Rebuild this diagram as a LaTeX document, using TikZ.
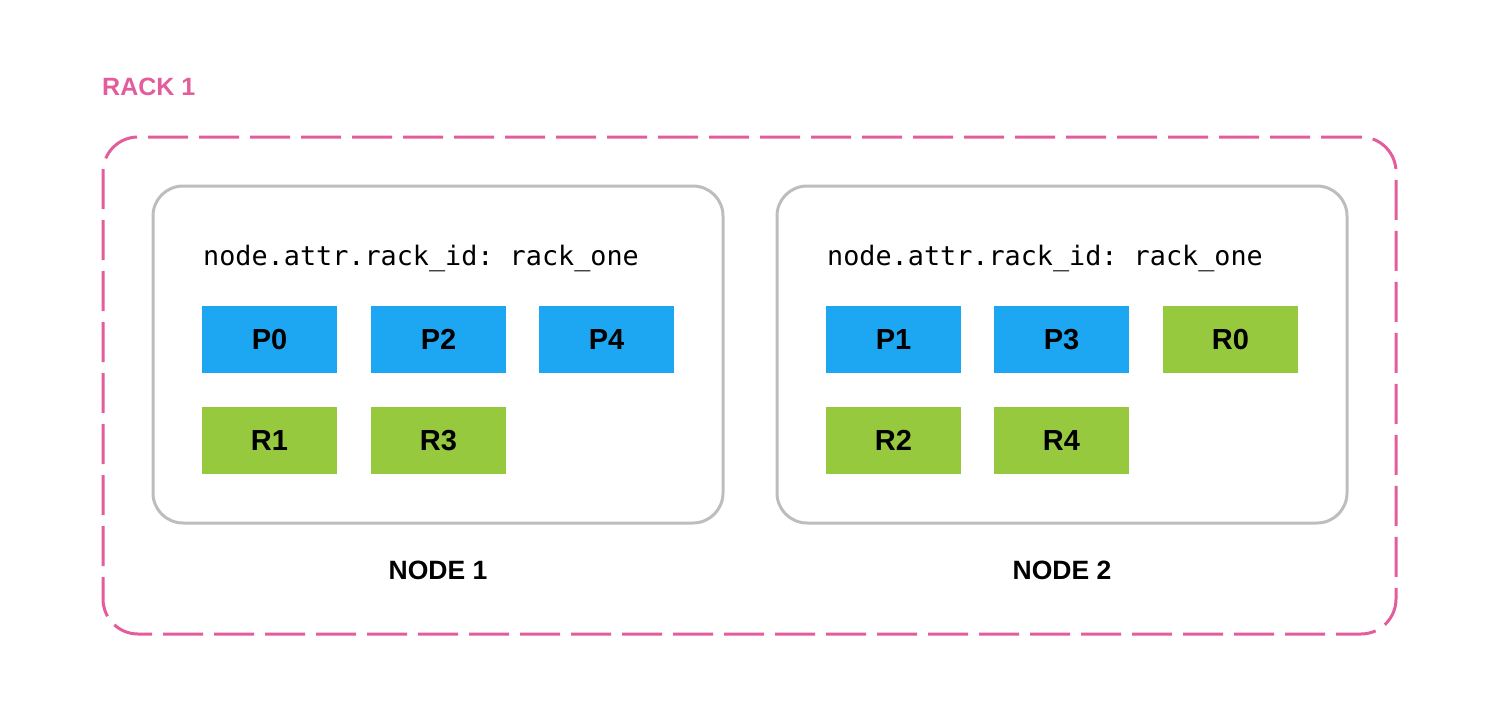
\documentclass[tikz,border=0pt]{standalone}
\usepackage{fontspec}
\setmainfont{Liberation Sans}
\setmonofont{DejaVu Sans Mono}
\definecolor{rackpink}{HTML}{E35C9B}
\definecolor{primblue}{HTML}{1DA7F2}
\definecolor{replgreen}{HTML}{97C93F}
\definecolor{boxgray}{HTML}{BDBDBD}
\begin{document}
\begin{tikzpicture}[x=1pt,y=-1pt,
    rack/.style={draw=rackpink,line width=3pt,dash pattern=on 40pt off 11pt,rounded corners=35pt,
      minimum width=1293pt,minimum height=497pt,inner sep=0pt},
    host/.style={draw=boxgray,line width=3pt,rounded corners=30pt,
      minimum width=570pt,minimum height=337pt,inner sep=0pt},
    shard/.style={minimum width=135pt,minimum height=67pt,inner sep=0pt,
      font=\fontsize{29}{32}\selectfont\bfseries},
    prim/.style={shard,fill=primblue},
    repl/.style={shard,fill=replgreen},
    title/.style={inner sep=0pt,font=\fontsize{26.5}{30}\selectfont\bfseries}]
    \useasboundingbox (0,0) rectangle (1500,704);
    % rack and hosts
    \node[rack] (rack) at (749.5,385.5) {};
    \node[title,text=rackpink,anchor=base west,font=\fontsize{25}{30}\selectfont\bfseries] (racklbl) at (102,95) {RACK 1};
    \node[host] (host1) at (438,354.5) {};
    \node[host] (host2) at (1062,354.5) {};
    \node[title,anchor=base] (lbl1) at (438,579) {NODE 1};
    \node[title,anchor=base] (lbl2) at (1062,579) {NODE 2};
    \node[inner sep=0pt,anchor=base west,font=\fontsize{26.8}{30}\ttfamily] (attr1) at (203,265) {node.attr.rack\_id: rack\_one};
    \node[inner sep=0pt,anchor=base west,font=\fontsize{26.8}{30}\ttfamily] (attr2) at (827,265) {node.attr.rack\_id: rack\_one};
    % shards on node 1
    \node[prim] (p0) at (269.5,339.5) {P0};
    \node[prim] (p2) at (438.5,339.5) {P2};
    \node[prim] (p4) at (606.5,339.5) {P4};
    \node[repl] (r1) at (269.5,440.5) {R1};
    \node[repl] (r3) at (438.5,440.5) {R3};
    % shards on node 2
    \node[prim] (p1) at (893.5,339.5) {P1};
    \node[prim] (p3) at (1061.5,339.5) {P3};
    \node[repl] (r0) at (1230.5,339.5) {R0};
    \node[repl] (r2) at (893.5,440.5) {R2};
    \node[repl] (r4) at (1061.5,440.5) {R4};
\end{tikzpicture}
\end{document}
